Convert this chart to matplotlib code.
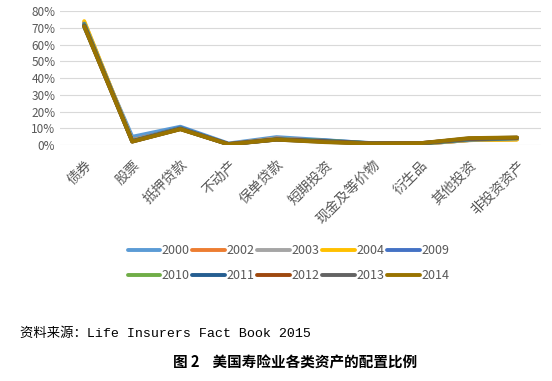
import matplotlib.pyplot as plt
from matplotlib.ticker import PercentFormatter

plt.rcParams['font.family'] = ['Noto Sans CJK SC', 'DejaVu Sans']

categories = ['债券', '股票', '抵押贷款', '不动产', '保单贷款',
              '短期投资', '现金及等价物', '衍生品', '其他投资', '非投资资产']
years = ['2000', '2002', '2003', '2004', '2009',
         '2010', '2011', '2012', '2013', '2014']
colors = ['#5B9BD5', '#ED7D31', '#A5A5A5', '#FFC000', '#4472C4',
          '#70AD47', '#255E91', '#9E480E', '#636363', '#997300']

# 各年份资产配置比例（%）
y2000 = [70.5, 5.0, 11.0, 1.0, 4.8, 3.0, 1.0, 0.8, 3.0, 4.0]
y2002 = [73.0, 3.0, 10.0, 0.7, 4.0, 2.5, 1.0, 0.8, 3.0, 3.5]
y2003 = [73.5, 2.8, 9.8, 0.7, 3.8, 2.4, 1.0, 0.8, 3.0, 3.5]
y2004 = [74.0, 2.6, 9.6, 0.6, 3.6, 2.2, 0.9, 0.9, 3.0, 3.3]
y2009 = [72.5, 2.5, 10.5, 0.7, 3.6, 2.8, 1.2, 1.0, 3.2, 4.0]
y2010 = [72.0, 2.4, 10.0, 0.6, 3.5, 2.6, 1.1, 1.0, 3.5, 4.2]
y2011 = [71.5, 2.3, 9.8, 0.6, 3.4, 2.4, 1.0, 1.2, 3.6, 4.3]
y2012 = [71.2, 2.2, 9.7, 0.6, 3.4, 2.2, 1.0, 1.2, 3.8, 4.4]
y2013 = [71.0, 2.2, 9.6, 0.5, 3.3, 2.0, 0.9, 1.0, 4.0, 4.5]
y2014 = [70.8, 2.1, 9.5, 0.5, 3.3, 1.8, 0.9, 1.2, 4.2, 4.6]
series = [y2000, y2002, y2003, y2004, y2009,
          y2010, y2011, y2012, y2013, y2014]

fig = plt.figure(figsize=(5.52, 3.81), dpi=100)
ax = fig.add_axes([0.109, 0.619, 0.871, 0.352])

x = range(len(categories))
lines = []
for vals, yr, c in zip(series, years, colors):
    ln, = ax.plot(x, vals, color=c, lw=2.8, label=yr, solid_capstyle='round')
    lines.append(ln)

ax.set_xlim(-0.5, len(categories) - 0.5)
ax.set_ylim(0, 80)
ax.set_yticks(range(0, 81, 10))
ax.yaxis.set_major_formatter(PercentFormatter(decimals=0))
ax.grid(axis='y', color='#D9D9D9', lw=0.8)
ax.set_axisbelow(True)
for s in ax.spines.values():
    s.set_visible(False)
ax.tick_params(length=0, colors='#595959', labelsize=8.5)
ax.set_xticks(list(x))
ax.set_xticklabels(categories, rotation=45, ha='right', rotation_mode='anchor',
                   fontsize=10, color='#595959')
ax.tick_params(axis='x', pad=9)

# 图例按行排列
order = [0, 5, 1, 6, 2, 7, 3, 8, 4, 9]
ax.legend([lines[i] for i in order], [years[i] for i in order],
          loc='center', bbox_to_anchor=(0.475, -0.88), ncol=5, frameon=False,
          fontsize=9, handlelength=2.6, handletextpad=0.15, columnspacing=0.2,
          labelspacing=0.95, labelcolor='#595959')

fig.text(0.036, 0.116, '资料来源：Life Insurers Fact Book 2015', fontsize=9.6,
         family=['Liberation Mono', 'Noto Sans CJK SC'])
fig.text(0.535, 0.036, '图 2    美国寿险业各类资产的配置比例', fontsize=10.5,
         ha='center', fontweight='bold')

fig.savefig('out.png', dpi=100, facecolor='white')
